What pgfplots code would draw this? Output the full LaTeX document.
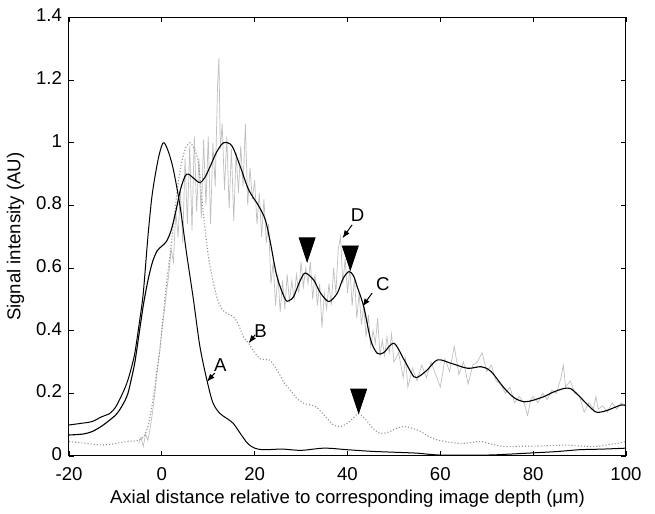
\documentclass[border=0pt]{standalone}
\usepackage{fontspec}
\setmainfont{Liberation Sans}
\usepackage{pgfplots}
\usepackage{pgfplotstable}
\pgfplotsset{compat=1.18}
\usetikzlibrary{arrows.meta}
\pgfdeclareplotmark{tipdown}{%
  \pgfpathmoveto{\pgfpoint{0pt}{0pt}}%
  \pgfpathlineto{\pgfpoint{-4pt}{12pt}}%
  \pgfpathlineto{\pgfpoint{4pt}{12pt}}%
  \pgfpathclose\pgfusepathqfillstroke}

\pgfplotstableread{
x y
-20 0.099
-17 0.105
-15 0.11
-13 0.125
-11.2 0.136
-10 0.155
-9.1 0.18
-8 0.215
-7.3 0.243
-6.5 0.285
-5.8 0.33
-4.8 0.43
-4 0.52
-3 0.70
-2.2 0.82
-1.5 0.89
-0.6 0.96
0.3 1.0
1.2 0.98
2.4 0.92
3.9 0.80
5.3 0.65
6.8 0.50
8.2 0.35
9.7 0.243
11 0.17
12.5 0.136
14 0.12
15.4 0.104
17 0.07
18.5 0.04
20 0.025
22 0.02
26 0.022
30 0.018
35 0.025
40 0.02
45 0.015
50 0.012
55 0.009
60 0.003
70 0.003
75 0.006
80 0.010
85 0.014
90 0.02
95 0.022
100 0.025
}\curveA

\pgfplotstableread{
x y
-20 0.046
-18 0.043
-16 0.04
-12.7 0.035
-10 0.04
-8 0.045
-6 0.048
-5 0.05
-4 0.06
-3 0.094
-1.9 0.18
-1.15 0.264
-0.4 0.34
0.3 0.45
1 0.55
2 0.67
2.8 0.78
3.5 0.87
4.3 0.94
5.2 0.985
6.05 1.0
7 0.98
7.9 0.935
8.9 0.78
10 0.64
11 0.56
12 0.50
12.9 0.47
14 0.455
15.4 0.445
16.5 0.42
17.6 0.38
18.7 0.36
20 0.33
21.2 0.31
22.5 0.308
23.4 0.305
25 0.27
26.5 0.23
27.7 0.21
29 0.185
30.6 0.168
32 0.163
33.4 0.155
35 0.13
37 0.099
38.5 0.094
40 0.105
41.5 0.125
42.4 0.135
44 0.115
45.5 0.088
47.1 0.072
49 0.077
50.5 0.088
52.2 0.094
54 0.088
55.8 0.078
57.5 0.062
59.4 0.051
62 0.044
64.4 0.04
66 0.042
68.8 0.046
71 0.038
73.8 0.03
78 0.031
81.7 0.032
85 0.034
87.5 0.035
90 0.032
93.2 0.03
96 0.036
98 0.04
100 0.046
}\curveB

\pgfplotstableread{
x y
-20 0.067
-17 0.07
-15 0.078
-13 0.095
-11.2 0.115
-10 0.13
-9.1 0.147
-8 0.175
-7.3 0.20
-6.5 0.25
-5.8 0.30
-5 0.38
-4 0.48
-3 0.56
-2 0.62
-1 0.655
0 0.67
1 0.685
2 0.72
3 0.78
4 0.85
5 0.893
5.7 0.90
7 0.885
8.2 0.873
9.3 0.89
10.4 0.924
11.8 0.97
13.3 1.0
15.1 0.99
16.9 0.924
18.7 0.85
20.8 0.80
22.3 0.754
23.4 0.68
24.8 0.573
26.6 0.50
27.5 0.497
28.4 0.509
29.8 0.56
30.9 0.584
32.7 0.562
34.2 0.52
36 0.493
37.8 0.52
39 0.565
40.3 0.589
41.3 0.575
42.1 0.54
43.5 0.477
45 0.37
46.4 0.328
47.8 0.33
50 0.36
52.2 0.307
54.3 0.253
55.5 0.255
57.2 0.275
59.4 0.307
62.3 0.296
65.9 0.28
68.8 0.285
70.9 0.27
73.8 0.216
76 0.185
78.1 0.173
80 0.178
82.4 0.19
84.5 0.205
86.8 0.216
88.2 0.214
90 0.19
91.1 0.173
93.3 0.142
94.5 0.14
96.2 0.147
99 0.163
100 0.16
}\curveC

\pgfplotstableread{
x y
-5 0.04
-4.5 0.06
-4 0.03
-3.5 0.07
-3 0.05
-2.5 0.09
-2 0.14
-1.5 0.20
-1 0.27
-0.5 0.33
0 0.40
0.5 0.46
1 0.52
1.5 0.58
2 0.66
2.5 0.62
3 0.78
3.5 0.70
4 0.85
4.5 0.68
5 0.95
5.5 0.74
6 0.99
6.5 0.72
7 1.02
7.5 0.78
8 0.95
8.5 0.76
9 1.01
9.5 0.80
10 1.02
10.5 0.74
11 1.00
11.5 0.86
12 1.18
12.3 1.27
12.6 0.98
13 1.06
13.5 0.85
14 1.02
14.5 0.79
15 0.98
15.5 0.75
16 0.97
16.5 0.84
17 0.99
17.5 0.86
18 1.06
18.5 0.80
19 0.92
19.5 0.82
20 0.88
20.5 0.74
21 0.84
21.5 0.70
22 0.82
22.5 0.68
23 0.74
23.5 0.55
24 0.62
24.5 0.48
25 0.58
25.5 0.46
26 0.56
26.5 0.47
27 0.58
27.5 0.49
28 0.56
28.5 0.50
29 0.58
29.5 0.52
30 0.62
30.5 0.54
31 0.60
31.5 0.55
32 0.62
32.5 0.50
33 0.58
33.5 0.48
34 0.55
34.5 0.41
35 0.52
35.5 0.47
36 0.55
36.5 0.48
37 0.60
37.5 0.52
38 0.66
38.5 0.70
39 0.55
39.5 0.63
40 0.52
40.5 0.60
41 0.48
41.5 0.57
42 0.44
42.5 0.52
43 0.42
43.5 0.48
44 0.38
44.5 0.45
45 0.35
45.5 0.40
46 0.36
46.5 0.44
47 0.32
47.5 0.37
48 0.32
48.5 0.38
49 0.33
49.5 0.39
50 0.30
51 0.33
52 0.25
52.5 0.31
53 0.22
54 0.28
55 0.24
56 0.29
57 0.25
58 0.30
59 0.26
60 0.22
61 0.31
62 0.27
63 0.35
64 0.26
65 0.30
66 0.23
67 0.29
68 0.30
69 0.33
70 0.27
71 0.29
72 0.24
73 0.23
74 0.20
75 0.22
76 0.17
77 0.19
78 0.17
78.8 0.13
79.5 0.18
80 0.19
81 0.17
82 0.20
83 0.18
84 0.21
85 0.20
86 0.25
86.5 0.29
87 0.22
88 0.24
89 0.20
90 0.19
91 0.14
92 0.17
93 0.15
93.5 0.19
94 0.15
95 0.16
96 0.14
97 0.17
98 0.15
99 0.17
100 0.16
}\curveD

\begin{document}
\begin{tikzpicture}
\begin{axis}[
  scale only axis, width=278.5pt, height=219.25pt,
  xmin=-20, xmax=100, ymin=0, ymax=1.4,
  xtick={-20,0,20,40,60,80,100},
  xticklabels={-20,0,20,40,60,80,100},
  ytick={0,0.2,0.4,0.6,0.8,1,1.2,1.4},
  yticklabels={0,0.2,0.4,0.6,0.8,1,1.2,1.4},
  tick align=inside, tick pos=both, major tick length=2.5pt,
  tick label style={font=\fontsize{9.3}{10}\selectfont},
  xticklabel style={yshift=-2pt},
  yticklabel style={yshift=1pt},
  label style={font=\fontsize{9.3}{11}\selectfont},
  xlabel style={yshift=2pt},
  ylabel style={yshift=-1pt},
  xlabel={Axial distance relative to corresponding image depth (μm)},
  ylabel={Signal intensity (AU)},
  axis line style={line width=0.5pt},
  every tick/.style={black, line width=0.4pt},
  clip=false,
]
\addplot[gray!50, line width=0.35pt] table {\curveD};
\addplot[gray!85, line width=0.55pt, densely dotted, smooth, tension=0.5] table {\curveB};
\addplot[black, line width=0.5pt, smooth, tension=0.5] table {\curveA};
\addplot[black, line width=0.55pt, smooth, tension=0.5] table {\curveC};
\addplot[only marks, mark=tipdown, black] coordinates {(31.3,0.62) (40.6,0.594) (42.4,0.137)};
\draw[-{Latex[length=4pt,width=3pt]}, line width=0.5pt] (axis cs:11.4,0.265) -- (axis cs:9.7,0.237);
\draw[-{Latex[length=4pt,width=3pt]}, line width=0.5pt] (axis cs:20.1,0.387) -- (axis cs:18.7,0.36);
\draw[-{Latex[length=4pt,width=3pt]}, line width=0.5pt] (axis cs:41,0.738) -- (axis cs:38.9,0.695);
\draw[-{Latex[length=4pt,width=3pt]}, line width=0.5pt] (axis cs:45.3,0.52) -- (axis cs:43.2,0.477);
\node[font=\fontsize{9.3}{10}\selectfont, inner sep=0pt] at (axis cs:12.6,0.29) {A};
\node[font=\fontsize{9.3}{10}\selectfont, inner sep=0pt] at (axis cs:21.3,0.40) {B};
\node[font=\fontsize{9.3}{10}\selectfont, inner sep=0pt] at (axis cs:47.6,0.548) {C};
\node[font=\fontsize{9.3}{10}\selectfont, inner sep=0pt] at (axis cs:42.2,0.768) {D};
\end{axis}
\path (current axis.south west) ++(-34.5pt,-24.5pt) rectangle ([shift={(14.5pt,8.75pt)}]current axis.north east);
\end{tikzpicture}
\end{document}
